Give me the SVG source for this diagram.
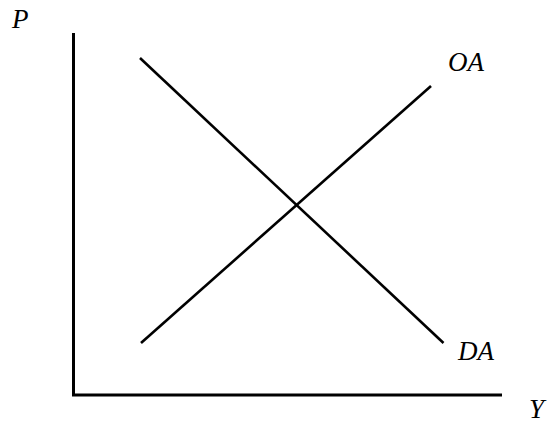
<svg xmlns="http://www.w3.org/2000/svg" width="549" height="424" viewBox="0 0 549 424">
<style>
.ax{stroke:#000;stroke-width:3;fill:none}
.cv{stroke:#000;stroke-width:2.6;fill:none}
.lb{fill:#000}
</style>
<rect width="549" height="424" fill="#fff"/>
<g id="connectors">
<polyline id="axes" class="ax" points="73.5,33 73.5,395 502,395"/>
<line id="DA-line" class="cv" x1="140" y1="58" x2="443.5" y2="343"/>
<line id="OA-line" class="cv" x1="141" y1="343" x2="431" y2="86"/>
</g>
<g font-family="Liberation Serif, Times New Roman, serif" font-style="italic" font-size="27">
<g id="label-P"><text class="lb" x="12" y="28">P</text></g>
<g id="label-OA"><text class="lb" x="448" y="71">OA</text></g>
<g id="label-DA"><text class="lb" x="458" y="360">DA</text></g>
<g id="label-Y"><text class="lb" x="529" y="418">Y</text></g>
</g>
</svg>
